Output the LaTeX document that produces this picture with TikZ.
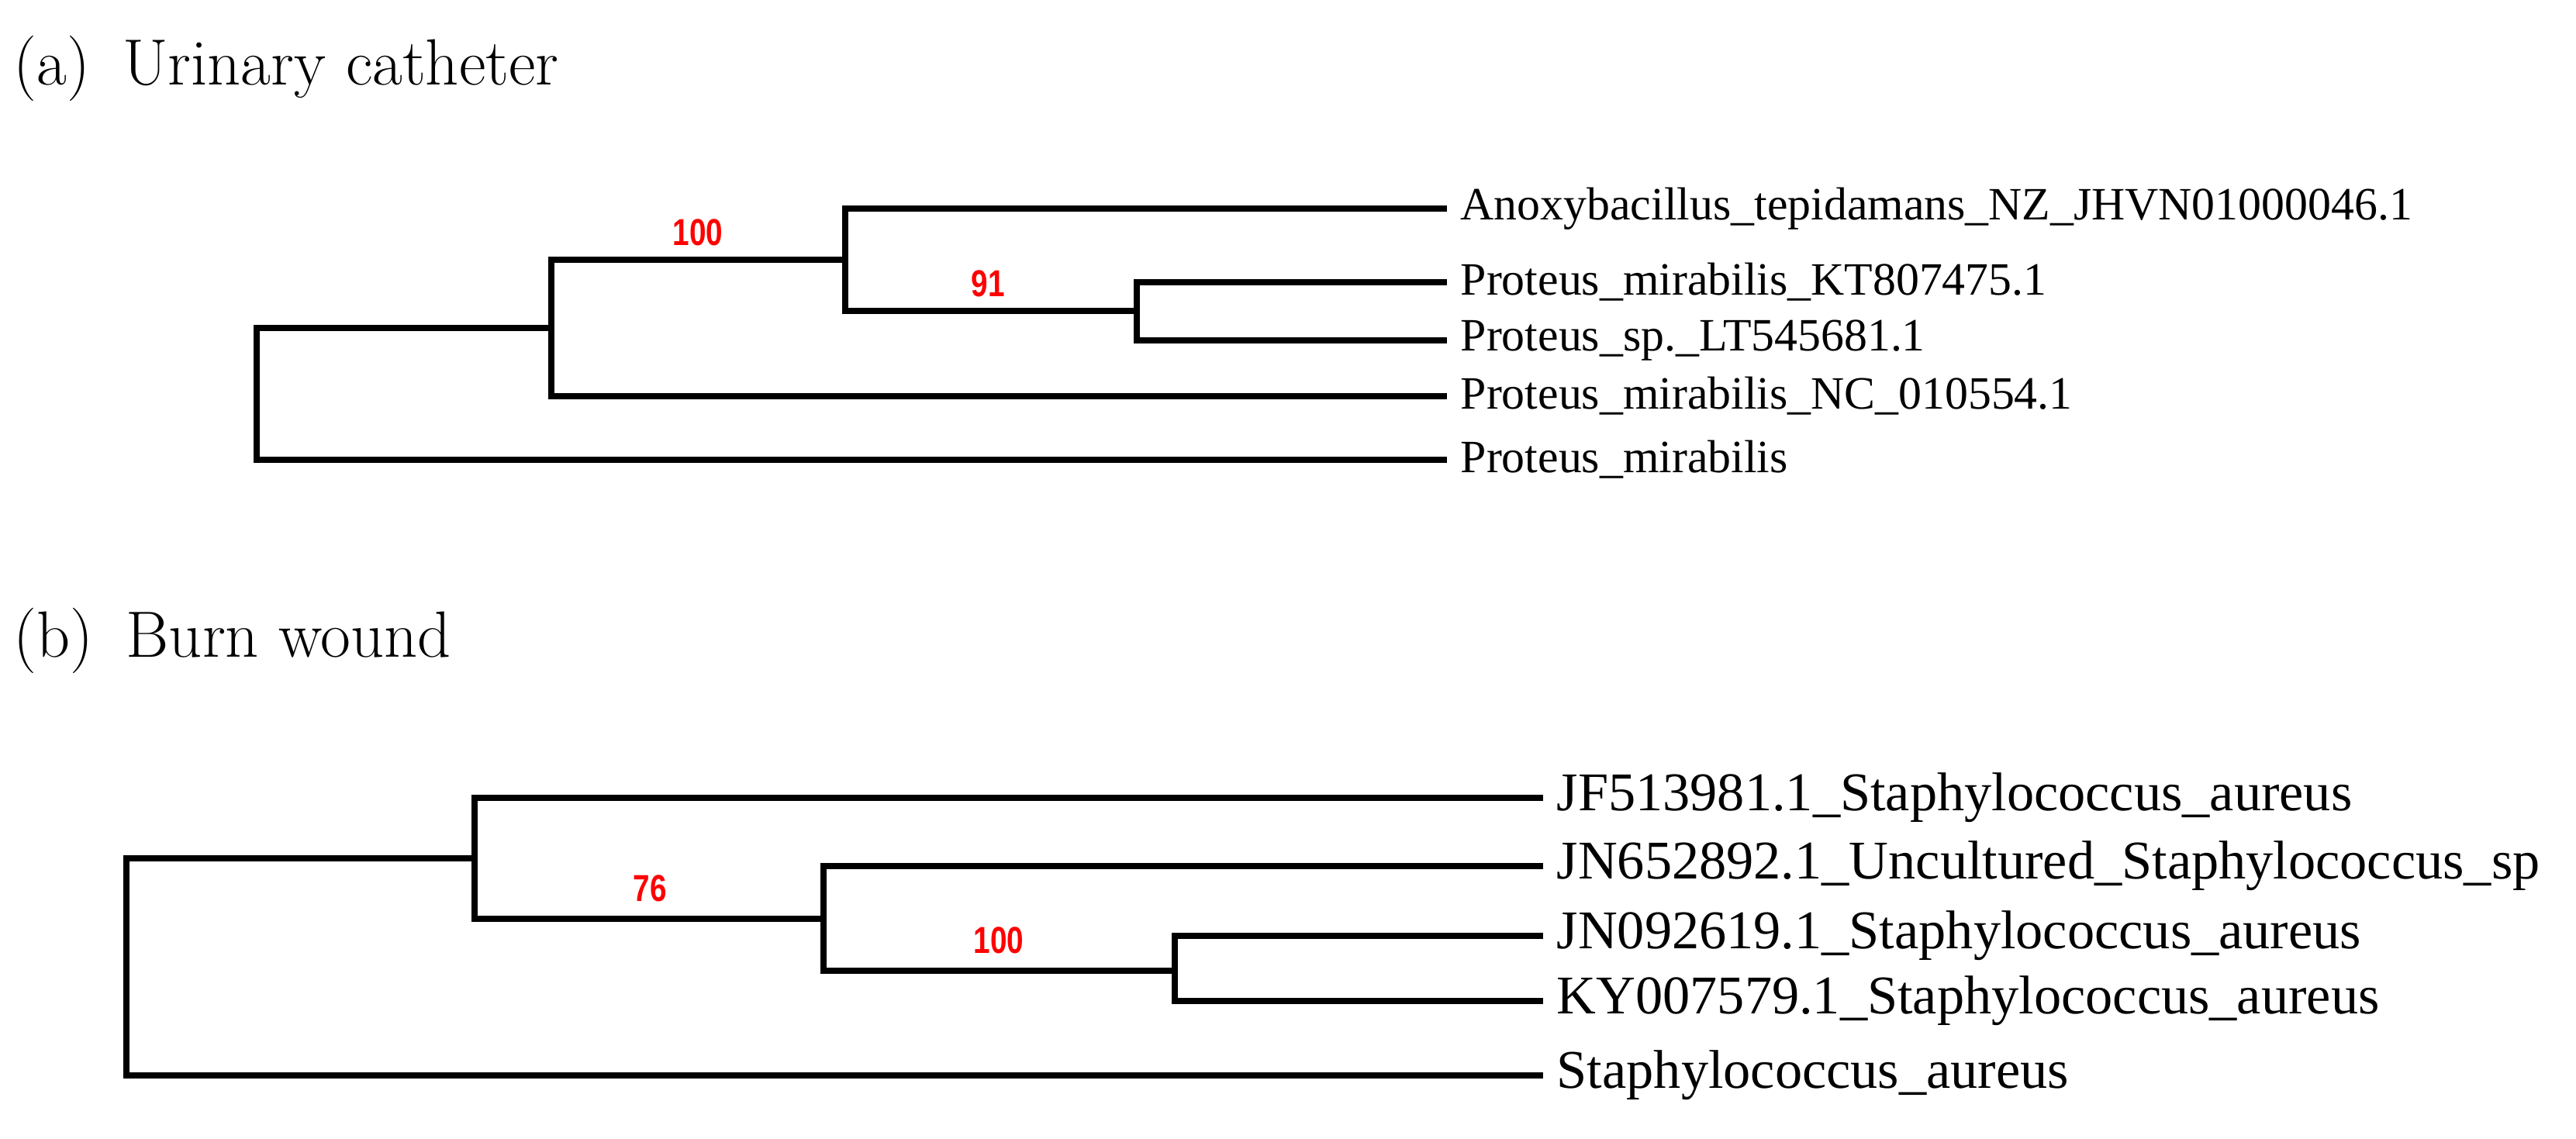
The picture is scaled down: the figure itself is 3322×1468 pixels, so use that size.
\documentclass[tikz,border=0pt]{standalone}
\usepackage{fontspec}
\setmainfont{Liberation Serif}
\newfontfamily\bootfont{Liberation Sans}
\begin{document}
\begin{tikzpicture}[x=0.01cm,y=-0.01cm,
	branch/.style={line width=2.1pt, line cap=rect},
	leaf/.style={anchor=west, inner sep=0pt, inner xsep=6pt, font=\fontsize{17}{19}\selectfont},
	leafb/.style={leaf, font=\fontsize{20}{22}\selectfont},
	boot/.style={red, font=\bootfont\bfseries\fontsize{11}{12}\selectfont, anchor=south, yscale=1.25},
	title/.style={anchor=west, inner sep=0pt, font=\fontfamily{lmr}\fontsize{24}{27}\selectfont}]
	\useasboundingbox (0,0) rectangle (3322,1468);
	% (a) urinary catheter
	\node [title] (ta) at (17,88) {(a)\enspace Urinary catheter};
	\coordinate (a0) at (331,508);
	\coordinate (a1) at (711,423);
	\coordinate (a2) at (1090,335);
	\coordinate (a3) at (1466,401);
	\node [leaf] (la1) at (1862,269) {Anoxybacillus\_tepidamans\_NZ\_JHVN01000046.1};
	\node [leaf] (la2) at (1862,364) {Proteus\_mirabilis\_KT807475.1};
	\node [leaf] (la3) at (1862,439) {Proteus\_sp.\_LT545681.1};
	\node [leaf] (la4) at (1862,511) {Proteus\_mirabilis\_NC\_010554.1};
	\node [leaf] (la5) at (1862,593) {Proteus\_mirabilis};
	\draw [branch] (a1) -| (a0) |- (la5.west);
	\draw [branch] (a2) -| (a1) |- (la4.west);
	\draw [branch] (a3) -| (a2) |- (la1.west);
	\draw [branch] (la2.west) -| (a3) |- (la3.west);
	\node [boot] (ba1) at (900,332) {100};
	\node [boot] (ba2) at (1274,398) {91};
	% (b) burn wound
	\node [title] (tb) at (17,826) {(b)\enspace Burn wound};
	\coordinate (b0) at (163,1107);
	\coordinate (b1) at (612,1185);
	\coordinate (b2) at (1062,1252);
	\coordinate (b3) at (1515,1252);
	\node [leafb] (lb1) at (1986,1029) {JF513981.1\_Staphylococcus\_aureus};
	\node [leafb] (lb2) at (1986,1117) {JN652892.1\_Uncultured\_Staphylococcus\_sp};
	\node [leafb] (lb3) at (1986,1207) {JN092619.1\_Staphylococcus\_aureus};
	\node [leafb] (lb4) at (1986,1291) {KY007579.1\_Staphylococcus\_aureus};
	\node [leafb] (lb5) at (1986,1387) {Staphylococcus\_aureus};
	\draw [branch] (b1 |- b0) -| (b0) |- (lb5.west);
	\draw [branch] (lb1.west) -| (b1) |- (b2 |- b1);
	\draw [branch] (lb2.west) -| (b2) |- (b3);
	\draw [branch] (lb3.west) -| (b3 |- lb3) -- (b3 |- lb4) -- (lb4.west);
	\draw [branch] (b2 |- b1) -- (b2);
	\node [boot] (bb1) at (838,1178) {76};
	\node [boot] (bb2) at (1288,1245) {100};
\end{tikzpicture}
\end{document}
